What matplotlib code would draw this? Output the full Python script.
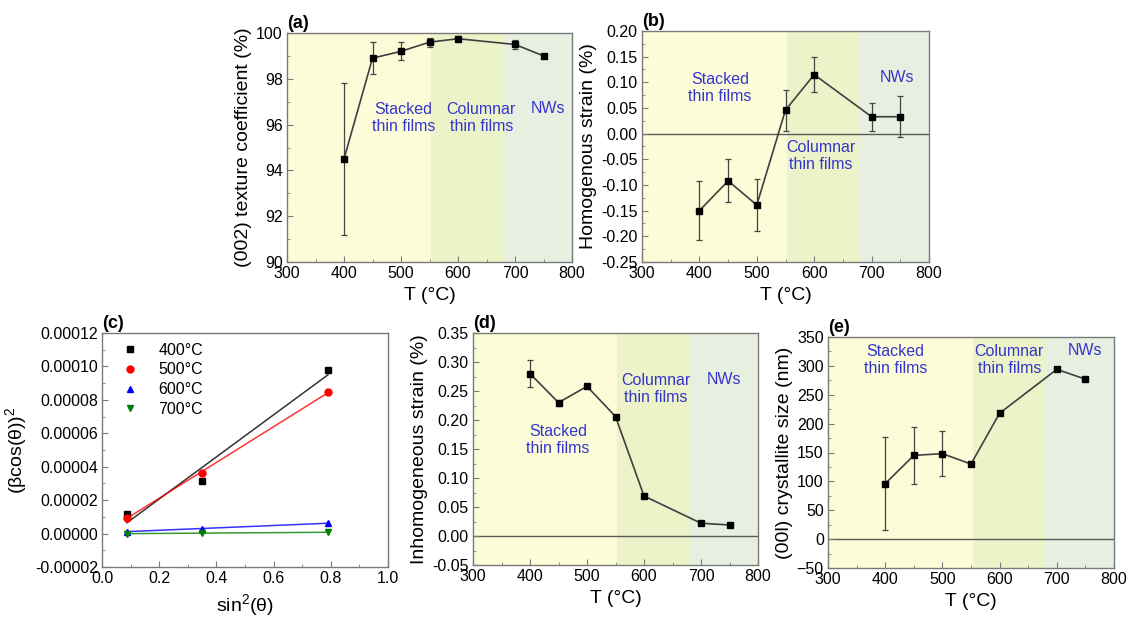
import matplotlib

matplotlib.use("Agg")
import matplotlib.pyplot as plt
import numpy as np
from matplotlib.ticker import FormatStrFormatter, MultipleLocator

# temperatures shared by panels a, b, d, e
TEMPS = [400, 450, 500, 550, 600, 700, 750]

TEXTURE = [94.5, 98.9, 99.2, 99.6, 99.75, 99.5, 99.0]
TEXTURE_ERR = [3.3, 0.7, 0.4, 0.2, 0.1, 0.2, 0.1]

HOMO_STRAIN = [-0.150, -0.092, -0.139, 0.046, 0.115, 0.033, 0.033]
HOMO_ERR = [0.058, 0.042, 0.051, 0.040, 0.034, 0.027, 0.040]

INHOMO_STRAIN = [0.280, 0.230, 0.258, 0.206, 0.069, 0.022, 0.019]
INHOMO_ERR = [0.023, 0.005, 0.0, 0.0, 0.0, 0.0, 0.0]

CRYST_SIZE = [96, 145, 148, 130, 218, 294, 277]
CRYST_ERR = [80.5, 49, 39.5, 0, 0, 0, 0]

# Williamson-Hall type data, panel c
SIN2 = [0.087, 0.35, 0.79]
WH_400 = [1.15e-5, 3.15e-5, 9.8e-5]
WH_500 = [0.95e-5, 3.65e-5, 8.45e-5]
WH_600 = [0.12e-5, 0.30e-5, 0.62e-5]
WH_700 = [0.00e-5, 0.02e-5, 0.08e-5]
WH_LABELS = ["400°C", "500°C", "600°C", "700°C"]

# morphology regions along T
REGION_EDGES = [300, 553, 679, 800]
REGION_COLORS = ["#fcfcd8", "#ecf3c8", "#e7efe0"]

W, H = 1134, 621
SPINE = "#7a7a7a"
LINE = "#3f3f3f"
BLUE_TXT = "#3535cc"


def box(left, top, right, bottom):
    return [left / W, 1 - bottom / H, (right - left) / W, (bottom - top) / H]


def style_axes(ax, panel):
    for s in ax.spines.values():
        s.set_color(SPINE)
        s.set_linewidth(1.0)
    ax.tick_params(which="both", direction="in", color=SPINE, top=False, right=False,
                   labelsize=11.5, pad=3)
    ax.tick_params(which="major", length=4)
    ax.tick_params(which="minor", length=2)
    ax.text(0.0, 1.005, panel, transform=ax.transAxes, ha="left", va="bottom",
            fontsize=13, fontweight="bold")


def t_panel(ax, values, errors, ylabel, ylim, ystep, fmt, panel, labels, zero_line=True):
    for (x0, x1), c in zip(zip(REGION_EDGES[:-1], REGION_EDGES[1:]), REGION_COLORS):
        ax.axvspan(x0, x1, color=c, lw=0, zorder=0)
    if zero_line:
        ax.axhline(0, color="#5a5a5a", lw=1.0, zorder=1)
    ax.errorbar(TEMPS, values, yerr=errors, color=LINE, lw=1.2, marker="s", ms=5,
                mfc="black", mec="black", ecolor="#444444", elinewidth=0.9, capsize=2.5,
                capthick=0.9, zorder=3)
    ax.set_xlim(300, 800)
    ax.set_ylim(*ylim)
    ax.xaxis.set_major_locator(MultipleLocator(100))
    ax.xaxis.set_minor_locator(MultipleLocator(50))
    ax.yaxis.set_major_locator(MultipleLocator(ystep))
    ax.yaxis.set_minor_locator(MultipleLocator(ystep / 2))
    if fmt:
        ax.yaxis.set_major_formatter(FormatStrFormatter(fmt))
    ax.set_xlabel("T (°C)", fontsize=14, labelpad=4)
    ax.set_ylabel(ylabel, fontsize=14, labelpad=3)
    for txt, x, y in labels:
        ax.text(x, y, txt, color=BLUE_TXT, fontsize=11.5, ha="center", va="center",
                linespacing=1.15, zorder=4)
    style_axes(ax, panel)


def main() -> None:
    plt.rcParams.update(
        {
            "font.family": ["Liberation Sans", "DejaVu Sans"],
            "mathtext.fontset": "custom",
            "mathtext.rm": "Liberation Sans",
            "mathtext.it": "Liberation Sans:italic",
        }
    )
    fig = plt.figure(figsize=(W / 100, H / 100), dpi=100)

    # Panel a
    ax = fig.add_axes(box(287, 33, 572, 262))
    t_panel(ax, TEXTURE, TEXTURE_ERR, "(002) texture coefficient (%)", (90, 100), 2, None, "(a)",
            [("Stacked\nthin films", 504, 96.3), ("Columnar\nthin films", 641, 96.3),
             ("NWs", 758, 96.72)], zero_line=False)

    # Panel b
    ax = fig.add_axes(box(642, 31, 929, 262))
    t_panel(ax, HOMO_STRAIN, HOMO_ERR, "Homogenous strain (%)", (-0.25, 0.20), 0.05, "%.2f", "(b)",
            [("Stacked\nthin films", 436, 0.089), ("Columnar\nthin films", 612, -0.044),
             ("NWs", 744, 0.110)])

    # Panel c
    ax = fig.add_axes(box(102, 333, 388, 567))
    series = [
        (WH_400, "black", "s"),
        (WH_500, "red", "o"),
        (WH_600, "blue", "^"),
        (WH_700, "green", "v"),
    ]
    xs = np.array(SIN2)
    for (vals, color, marker), label in zip(series, WH_LABELS):
        ax.plot(SIN2, vals, linestyle="none", marker=marker, color=color, ms=5, label=label, zorder=3)
        k, b = np.polyfit(xs, vals, 1)
        ax.plot([xs[0], xs[-1]], [k * xs[0] + b, k * xs[-1] + b], color=color, lw=1.1,
                alpha=0.8, zorder=2)
    ax.set_xlim(0, 1.0)
    ax.set_ylim(-0.00002, 0.00012)
    ax.xaxis.set_major_locator(MultipleLocator(0.2))
    ax.xaxis.set_minor_locator(MultipleLocator(0.1))
    ax.xaxis.set_major_formatter(FormatStrFormatter("%.1f"))
    ax.yaxis.set_major_locator(MultipleLocator(0.00002))
    ax.yaxis.set_minor_locator(MultipleLocator(0.00001))
    ax.yaxis.set_major_formatter(FormatStrFormatter("%.5f"))
    ax.set_xlabel("sin$^2$(θ)", fontsize=14, labelpad=4)
    ax.set_ylabel("(βcos(θ))$^2$", fontsize=14, labelpad=4)
    ax.legend(loc="upper left", bbox_to_anchor=(0.03, 1.0), frameon=False, fontsize=11.5,
              handletextpad=1.2, labelspacing=0.3, borderaxespad=0.2, handlelength=1.2)
    style_axes(ax, "(c)")

    # Panel d
    ax = fig.add_axes(box(473, 333, 758, 565))
    t_panel(ax, INHOMO_STRAIN, INHOMO_ERR, "Inhomogeneous strain (%)", (-0.05, 0.35), 0.05, "%.2f",
            "(d)", [("Stacked\nthin films", 449, 0.166), ("Columnar\nthin films", 620, 0.253),
                    ("NWs", 741, 0.27)])

    # Panel e
    ax = fig.add_axes(box(828, 337, 1114, 568))
    t_panel(ax, CRYST_SIZE, CRYST_ERR, "(00l) crystallite size (nm)", (-50, 350), 50, None, "(e)",
            [("Stacked\nthin films", 418, 310), ("Columnar\nthin films", 617, 310),
             ("NWs", 749, 327)])

    fig.savefig("out.png", dpi=100)
    plt.close(fig)


if __name__ == "__main__":
    main()
